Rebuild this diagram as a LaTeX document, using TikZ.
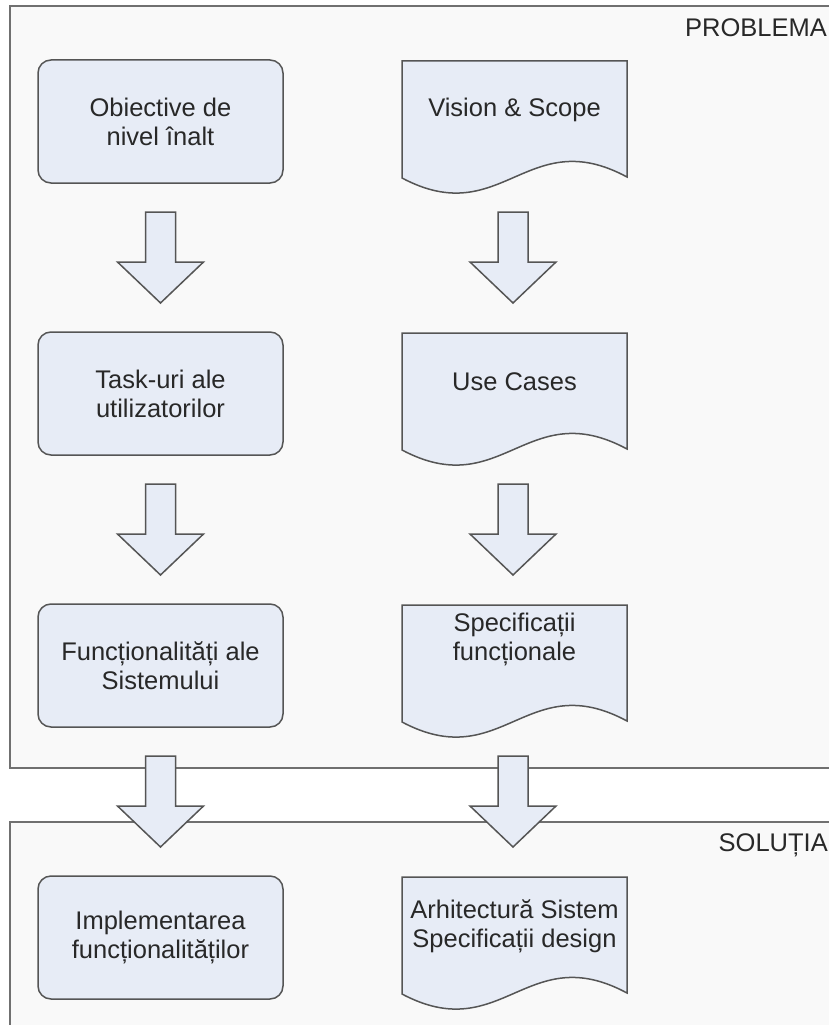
\documentclass[tikz,border=0pt]{standalone}
\usepackage{fontspec}
\setmainfont{Liberation Sans}
\usetikzlibrary{calc}

\definecolor{boxfill}{RGB}{231,236,246}
\definecolor{boxline}{RGB}{85,85,85}
\definecolor{panelfill}{RGB}{249,249,249}
\definecolor{panelline}{RGB}{112,112,112}
\definecolor{ink}{RGB}{40,40,40}

% document symbol with a wavy lower edge; #1 name, #2 top-left corner,
% #3 vertical offset of the text centre below the top edge, #4 text
\newcommand\docbox[4]{%
  \coordinate (#1-o) at #2;
  \draw[docline] (#1-o) -- ($(#1-o)+(225,0)$) -- ($(#1-o)+(225,116)$)
    .. controls ($(#1-o)+(125,62)$) and ($(#1-o)+(100,170)$) .. ($(#1-o)+(0,117)$) -- cycle;
  \node[doctext] (#1) at ($(#1-o)+(112.5,#3)$) {#4};
  \coordinate (#1-n) at ($(#1-o)+(111,0)$);
  \coordinate (#1-s) at ($(#1-o)+(111,121)$);}

% hollow block arrow pointing down, centred between two anchors
\newcommand\blockarrow[2]{%
  \draw[blockar] ($(#1)!0.5!(#2)$) ++(-15,-45.5) -- ++(30,0) -- ++(0,50)
    -- ++(28,0) -- ++(-43,41) -- ++(-43,-41) -- ++(28,0) -- cycle;}

\begin{document}
\begin{tikzpicture}[x=1pt,y=-1pt,
  every node/.style={font=\fontsize{25.5}{29}\selectfont, text=ink},
  task/.style={draw=boxline, line width=1.5pt, fill=boxfill, rounded corners=13pt,
    minimum width=245pt, minimum height=123pt, align=center, inner sep=0pt},
  docline/.style={draw=boxline, line width=1.5pt, fill=boxfill},
  doctext/.style={align=center, inner sep=0pt},
  panel/.style={draw=panelline, line width=2.5pt, fill=panelfill},
  blockar/.style={draw=boxline, line width=1.5pt, fill=boxfill, line join=miter},
  title/.style={anchor=base east, inner sep=0pt}]

\clip (0,0) rectangle (829,1025);
\fill[white] (0,0) rectangle (829,1025);

% the two areas
\draw[panel] (10,6) rectangle (850,768);
\draw[panel] (10,822) rectangle (850,1045);
\node[title] (problema) at (827,37) {PROBLEMA};
\node[title] (solutia) at (828,851) {SOLUȚIA};

% left column
\node[task] (obiective) at (160.5,121.5) {Obiective de\\nivel înalt};
\node[task] (taskuri) at (160.5,393.5) {Task-uri ale\\utilizatorilor};
\node[task] (functionalitati) at (160.5,665.5) {Funcționalități ale\\Sistemului};
\node[task] (implementare) at (160.5,937.5) {Implementarea\\funcționalităților};

% right column
\docbox{vision}{(402,61)}{49}{Vision \& Scope}
\docbox{usecases}{(402,333)}{49}{Use Cases}
\docbox{specificatii}{(402,605)}{34}{Specificații\\funcționale}
\docbox{arhitectura}{(402,877)}{49}{Arhitectură Sistem\\Specificații design}

% arrows
\blockarrow{obiective.south}{taskuri.north}
\blockarrow{taskuri.south}{functionalitati.north}
\blockarrow{functionalitati.south}{implementare.north}
\blockarrow{vision-s}{usecases-n}
\blockarrow{usecases-s}{specificatii-n}
\blockarrow{specificatii-s}{arhitectura-n}
\end{tikzpicture}
\end{document}
